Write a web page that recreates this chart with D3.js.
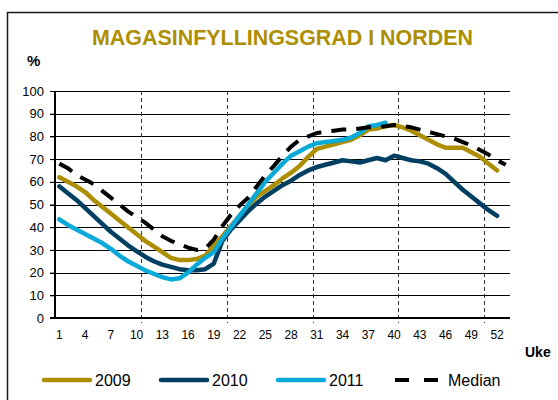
<!DOCTYPE html>
<html><head><meta charset="utf-8">
<script src="https://cdn.jsdelivr.net/npm/d3@7"></script>
<style>
html,body{margin:0;padding:0;background:#fff;}
svg{display:block;font-family:"Liberation Sans",Arial,sans-serif;}
</style></head>
<body>
<svg id="chart" width="558" height="400"></svg>
<script>
const title = "MAGASINFYLLINGSGRAD I NORDEN";
const yUnit = "%";
const xTitle = "Uke";
const weeks = [1,2,3,4,5,6,7,8,9,10,11,12,13,14,15,16,17,18,19,20,21,22,23,24,25,26,27,28,29,30,31,32,33,34,35,36,37,38,39,40,41,42,43,44,45,46,47,48,49,50,51,52,53];
const xTickLabels = [1,4,7,10,13,16,19,22,25,28,31,34,37,40,43,46,49,52];
const yTicks = [0,10,20,30,40,50,60,70,80,90,100];
const dividerWeeks = [10,20,30,40,50];

const s2009 = [62,60,58,55.5,52,49,46,43,40,37,34,31.5,29,26.5,25.5,25.5,26,27.5,32,36,40.5,45,49.5,53.5,56,58.5,61.5,64,67,71,74.5,75.5,76.5,77.5,78.5,80.5,83,83.5,84.5,85,84,82.5,80.5,78.5,76.5,75,75,75,73,71,68,65];
const s2010 = [58,55,52,48.5,45,41.5,38,35,32,29.5,27,25,23.5,22.5,21.5,21,21,21.5,24,34,39,43,47,50.5,53.5,56,58.5,60.5,63,65,66.5,67.5,68.5,69.5,69,68.5,69.5,70.5,69.5,71.5,70.5,69.5,69,68,66,63.5,60,56.5,53.5,50.5,47.5,45];
const s2011 = [43.5,41,39,37,35,33,30.5,27.5,25,23,21,19.5,18,17,17.5,20,23.5,26.5,29,35,40,45,50,55,60,64,68,71.5,73.5,75.5,77,77.5,78,78.5,79.5,81.5,84.5,85,86];
const sMedian = [68,66,63,61,59,56,53,50,47,44.5,42,39,36,34,32.5,31,30,30.5,34.5,40.5,45.5,49.5,53,58,63,67,71.5,75.5,78.5,80,81.5,82,82.5,83,83,83.5,84,84,84.5,85,84.5,84,83,82,81,80,79,77.5,76,74,72,69.5,67.5];

const seriesNames = ["2009","2010","2011","Median"];
const seriesColors = ["#ad8e00","#003f62","#0aaad8","#000000"];
const seriesData = [s2009, s2010, s2011, sMedian];

const svg = d3.select("#chart");
const W = 558, H = 400;
const m = {left:55, right:510, top:91, bottom:318};

// outer frame
svg.append("rect").attr("x",7.5).attr("y",12.5).attr("width",W).attr("height",H)
  .attr("fill","none").attr("stroke","#1a1a1a").attr("stroke-width",1.5);

const x = d3.scaleBand().domain(weeks).range([m.left, m.right]).paddingInner(0).paddingOuter(0);
const bw = x.bandwidth();
const xc = w => x(w) + bw/2;
const y = d3.scaleLinear().domain([0,100]).range([m.bottom, m.top]);

// title
svg.append("text").attr("x",282.5).attr("y",45).attr("text-anchor","middle")
  .attr("font-size",22).attr("font-weight","bold").attr("fill","#ad8e00")
  .attr("textLength",381).attr("lengthAdjust","spacingAndGlyphs").text(title);
svg.append("text").attr("x",27).attr("y",66).attr("font-size",15).attr("font-weight","bold")
  .attr("fill","#000").text(yUnit);

// horizontal grid
svg.append("g").selectAll("line").data(yTicks.filter(d=>d>0)).join("line")
  .attr("x1",m.left-5).attr("x2",m.right)
  .attr("y1",d=>Math.round(y(d))+0.5).attr("y2",d=>Math.round(y(d))+0.5)
  .attr("stroke","#000").attr("stroke-width",1);

// vertical dashed dividers
svg.append("g").selectAll("line").data(dividerWeeks).join("line")
  .attr("x1",d=>Math.round(x(d+1))+0.5).attr("x2",d=>Math.round(x(d+1))+0.5)
  .attr("y1",m.top).attr("y2",m.bottom+5)
  .attr("stroke","#333").attr("stroke-width",1).attr("stroke-dasharray","4,3");

// y axis
const yAxis = d3.axisLeft(y).tickValues(yTicks).tickSize(5).tickPadding(6);
const gy = svg.append("g").attr("transform",`translate(${m.left},0)`).call(yAxis);
gy.select(".domain").remove();
gy.selectAll(".tick line").attr("stroke","#000");
gy.selectAll(".tick text").attr("font-size",13).attr("fill","#000")
  .attr("font-family","Liberation Sans, Arial, sans-serif");

// x axis labels
const xAxis = d3.axisBottom(x).tickValues(xTickLabels).tickSize(0).tickPadding(12);
const gx = svg.append("g").attr("transform",`translate(0,${m.bottom})`).call(xAxis);
gx.select(".domain").remove();
gx.selectAll(".tick text").attr("font-size",12).attr("fill","#000")
  .attr("font-family","Liberation Sans, Arial, sans-serif");

// axis lines
svg.append("line").attr("x1",m.left).attr("x2",m.left).attr("y1",m.top).attr("y2",m.bottom+1)
  .attr("stroke","#000").attr("stroke-width",2);
svg.append("line").attr("x1",m.left-5).attr("x2",m.right).attr("y1",m.bottom).attr("y2",m.bottom)
  .attr("stroke","#000").attr("stroke-width",2);

svg.append("text").attr("x",525).attr("y",357).attr("font-size",14).attr("font-weight","bold")
  .attr("fill","#000").text(xTitle);

// lines
const line = d3.line().x((d,i)=>xc(weeks[i])).y(d=>y(d));
seriesData.forEach((s,k)=>{
  const p = svg.append("path").datum(s).attr("d",line).attr("fill","none")
    .attr("stroke",seriesColors[k]).attr("stroke-width",k===3?4:4.5)
    .attr("stroke-linejoin","round");
  if(k===3){ p.attr("stroke-dasharray","15,10"); }
  else p.attr("stroke-linecap","round");
});
// re-draw median on top order: median drawn last already

// legend
const legendX = [42,159,276,395];
const lg = svg.append("g");
seriesNames.forEach((n,k)=>{
  const lx = legendX[k];
  if(k<3){
    lg.append("line").attr("x1",lx+2).attr("x2",lx+48).attr("y1",380).attr("y2",380)
      .attr("stroke",seriesColors[k]).attr("stroke-width",4.5).attr("stroke-linecap","round");
    lg.append("text").attr("x",lx+53).attr("y",386).attr("font-size",16).attr("fill","#000").text(n);
  } else {
    lg.append("line").attr("x1",lx).attr("x2",lx+43).attr("y1",380).attr("y2",380)
      .attr("stroke","#000").attr("stroke-width",4).attr("stroke-dasharray","14,15").attr("stroke-linecap","butt");
    lg.append("text").attr("x",lx+53).attr("y",386).attr("font-size",16).attr("fill","#000").text(n);
  }
});
</script>
</body></html>
